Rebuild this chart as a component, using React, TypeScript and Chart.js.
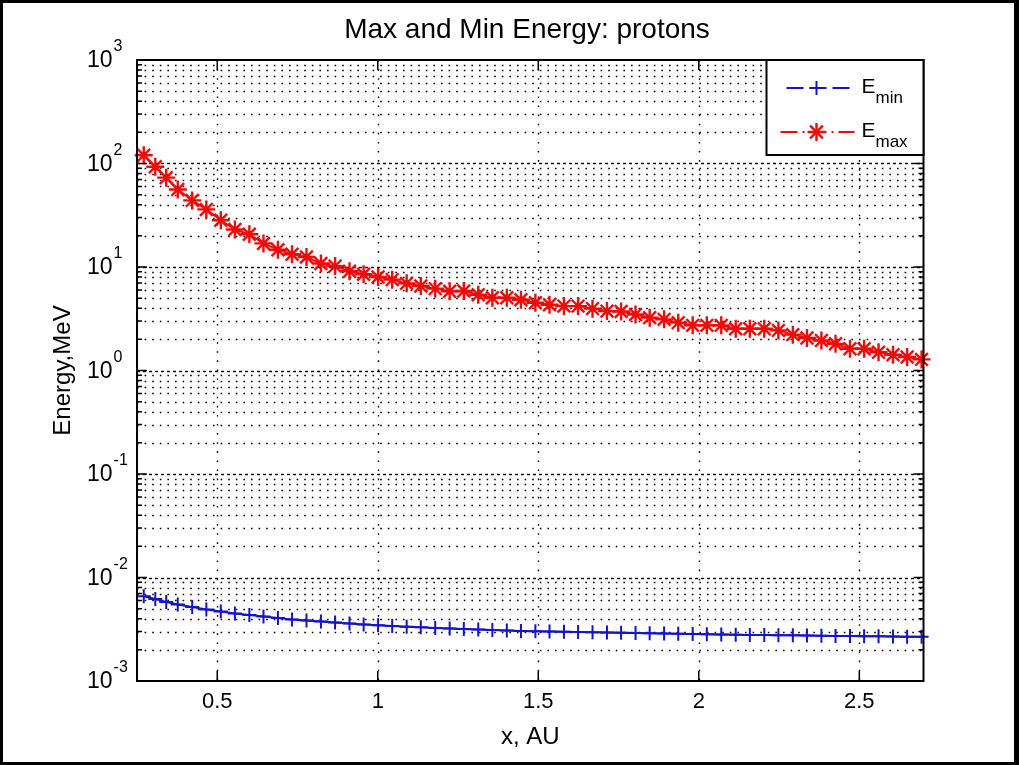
import React, { useEffect, useRef } from 'react';
import { Chart, registerables } from 'chart.js';

Chart.register(...registerables);

// ---- data ----
const xValues = [
  0.271, 0.307, 0.341, 0.377, 0.422, 0.466, 0.511, 0.555, 0.600, 0.644,
  0.689, 0.733, 0.778, 0.823, 0.867, 0.912, 0.956, 1.001, 1.045, 1.090,
  1.134, 1.179, 1.224, 1.268, 1.313, 1.357, 1.402, 1.446, 1.491, 1.535,
  1.580, 1.624, 1.669, 1.714, 1.758, 1.803, 1.847, 1.892, 1.936, 1.981,
  2.025, 2.070, 2.115, 2.159, 2.204, 2.248, 2.293, 2.337, 2.382, 2.426,
  2.471, 2.515, 2.560, 2.605, 2.649, 2.694,
];

const eMaxValues = [
  120, 93, 73, 56, 44, 36, 28.3, 23, 20.7, 16.9,
  14.7, 13.3, 12.5, 10.8, 10.2, 9.1, 8.5, 8.0, 7.55, 6.95,
  6.55, 6.18, 5.82, 5.86, 5.4, 5.05, 5.05, 4.83, 4.52, 4.32,
  4.19, 4.19, 3.96, 3.75, 3.72, 3.48, 3.24, 3.12, 2.9, 2.73,
  2.73, 2.73, 2.53, 2.53, 2.53, 2.44, 2.22, 2.06, 1.95, 1.81,
  1.62, 1.62, 1.5, 1.42, 1.35, 1.28,
];

const eMinValues = [
  0.0066, 0.00621, 0.00581, 0.00549, 0.00519, 0.00491, 0.0047, 0.00449, 0.00435, 0.0042,
  0.00406, 0.00393, 0.00384, 0.00376, 0.00368, 0.0036, 0.00352, 0.00345, 0.0034, 0.00335,
  0.0033, 0.00325, 0.00322, 0.00318, 0.00315, 0.00311, 0.00308, 0.00304, 0.00303, 0.00301,
  0.00299, 0.00297, 0.00295, 0.00294, 0.00292, 0.00291, 0.00289, 0.00288, 0.00286, 0.00284,
  0.00283, 0.00282, 0.0028, 0.00279, 0.00278, 0.00277, 0.00276, 0.00275, 0.00273, 0.00272,
  0.00272, 0.00271, 0.0027, 0.00269, 0.00268, 0.00267,
];

const xTicks = [0.5, 1, 1.5, 2, 2.5];
const xTickLabels = ['0.5', '1', '1.5', '2', '2.5'];
const yDecadeExponents = [-3, -2, -1, 0, 1, 2, 3];
const yExponentLabels = ['-3', '-2', '-1', '0', '1', '2', '3'];
const yMinorMultipliers = [2, 3, 4, 5, 6, 7, 8, 9];

const titleText = 'Max and Min Energy: protons';
const xAxisLabel = 'x, AU';
const yAxisLabel = 'Energy,MeV';
const seriesNames = [
  { base: 'E', sub: 'min' },
  { base: 'E', sub: 'max' },
];

const FONT = '"Liberation Sans", Arial, Helvetica, sans-serif';
const BLUE = 'rgb(20,20,200)';
const RED = 'rgb(240,10,10)';

function drawPlus(ctx: CanvasRenderingContext2D, x: number, y: number, r: number) {
  ctx.beginPath();
  ctx.moveTo(x - r, y); ctx.lineTo(x + r, y);
  ctx.moveTo(x, y - r); ctx.lineTo(x, y + r);
  ctx.stroke();
}

function drawStar(ctx: CanvasRenderingContext2D, x: number, y: number, r: number) {
  drawPlus(ctx, x, y, r);
  const d = r * Math.SQRT1_2;
  ctx.beginPath();
  ctx.moveTo(x - d, y - d); ctx.lineTo(x + d, y + d);
  ctx.moveTo(x - d, y + d); ctx.lineTo(x + d, y - d);
  ctx.stroke();
}

const matlabPlugin = {
  id: 'matlabLook',
  beforeDraw(chart: any) {
    const { ctx, width, height } = chart;
    ctx.save();
    ctx.fillStyle = '#fff';
    ctx.fillRect(0, 0, width, height);
    ctx.fillStyle = '#000';
    ctx.fillRect(0, 0, width, 3);
    ctx.fillRect(0, 0, 3, height);
    ctx.fillRect(width - 5, 0, 5, height);
    ctx.fillRect(0, height - 3, width, 3);
    ctx.restore();
  },
  beforeDatasetsDraw(chart: any) {
    const { ctx, chartArea: ca, scales } = chart;
    const xs = scales.x;
    const ys = scales.y;
    ctx.save();
    ctx.strokeStyle = '#000';
    ctx.lineWidth = 1.4;
    for (const e of yDecadeExponents) {
      for (const m of [1, ...yMinorMultipliers]) {
        const v = m * Math.pow(10, e);
        const py = ys.getPixelForValue(v);
        if (py <= ca.top + 1 || py >= ca.bottom - 1) continue;
        ctx.setLineDash(m === 1 ? [3, 3] : [1.6, 6]);
        ctx.beginPath();
        ctx.moveTo(ca.left, Math.round(py) + 0.5);
        ctx.lineTo(ca.right, Math.round(py) + 0.5);
        ctx.stroke();
      }
    }
    ctx.setLineDash([1.6, 7.5]);
    for (const v of xTicks) {
      const px = Math.round(xs.getPixelForValue(v)) + 0.5;
      ctx.beginPath();
      ctx.moveTo(px, ca.top);
      ctx.lineTo(px, ca.bottom);
      ctx.stroke();
    }
    ctx.restore();
  },
  afterDatasetsDraw(chart: any) {
    const { ctx, chartArea: ca, scales } = chart;
    const xs = scales.x;
    const ys = scales.y;
    ctx.save();
    ctx.setLineDash([]);
    ctx.strokeStyle = '#000';
    ctx.lineWidth = 1.5;
    // ticks on y (left & right), inward
    for (const e of yDecadeExponents) {
      for (const m of [1, ...yMinorMultipliers]) {
        const v = m * Math.pow(10, e);
        const py = ys.getPixelForValue(v);
        if (py < ca.top - 0.5 || py > ca.bottom + 0.5) continue;
        const len = m === 1 ? 10 : 5;
        ctx.beginPath();
        ctx.moveTo(ca.left, py); ctx.lineTo(ca.left + len, py);
        ctx.moveTo(ca.right, py); ctx.lineTo(ca.right - len, py);
        ctx.stroke();
      }
    }
    for (const v of xTicks) {
      const px = xs.getPixelForValue(v);
      ctx.beginPath();
      ctx.moveTo(px, ca.bottom); ctx.lineTo(px, ca.bottom - 10);
      ctx.moveTo(px, ca.top); ctx.lineTo(px, ca.top + 10);
      ctx.stroke();
    }
    // axes box
    ctx.lineWidth = 2;
    ctx.strokeRect(ca.left, ca.top, ca.right - ca.left, ca.bottom - ca.top);

    // y tick labels: 10 with superscript exponent
    ctx.fillStyle = '#000';
    ctx.textBaseline = 'middle';
    ctx.textAlign = 'left';
    yDecadeExponents.forEach((e, i) => {
      const py = ys.getPixelForValue(Math.pow(10, e));
      ctx.font = `23px ${FONT}`;
      const baseX = 87;
      ctx.fillText('10', baseX, py + 1);
      const w = ctx.measureText('10').width;
      ctx.font = `16px ${FONT}`;
      ctx.fillText(yExponentLabels[i], baseX + w + 1, py - 13);
    });

    // legend
    const lw = 157;
    const lh = 95;
    const lx = ca.right - lw;
    const ly = ca.top;
    ctx.fillStyle = '#fff';
    ctx.fillRect(lx, ly, lw, lh);
    ctx.lineWidth = 2;
    ctx.strokeStyle = '#000';
    ctx.strokeRect(lx, ly, lw, lh);

    const rows = [ly + 28, ly + 72];
    const lineX0 = lx + 14;
    const lineX1 = lx + 88;
    const markX = lx + 50;
    // blue row
    ctx.strokeStyle = BLUE;
    ctx.lineWidth = 2;
    ctx.setLineDash([17, 6]);
    ctx.lineDashOffset = -6;
    ctx.beginPath(); ctx.moveTo(lineX0, rows[0]); ctx.lineTo(lineX1, rows[0]); ctx.stroke();
    ctx.setLineDash([]);
    drawPlus(ctx, markX, rows[0], 7);
    // red row
    ctx.strokeStyle = RED;
    ctx.setLineDash([17, 5, 2, 5]);
    ctx.lineDashOffset = 0;
    ctx.beginPath(); ctx.moveTo(lineX0, rows[1]); ctx.lineTo(lineX1, rows[1]); ctx.stroke();
    ctx.setLineDash([]);
    ctx.lineWidth = 2.4;
    drawStar(ctx, markX, rows[1], 9);

    ctx.fillStyle = '#000';
    ctx.textBaseline = 'alphabetic';
    seriesNames.forEach((s, i) => {
      const tx = lx + 95;
      const by = rows[i] + 5;
      ctx.font = `21px ${FONT}`;
      ctx.fillText(s.base, tx, by);
      const w = ctx.measureText(s.base).width;
      ctx.font = `17px ${FONT}`;
      ctx.fillText(s.sub, tx + w, by + 10);
    });
    ctx.restore();
  },
};

export default function App() {
  const ref = useRef<HTMLCanvasElement>(null);
  useEffect(() => {
    document.body.style.margin = '0';
    const canvas = ref.current;
    if (!canvas) return;
    const chart = new Chart(canvas, {
      type: 'line',
      data: {
        datasets: [
          {
            label: 'E_min',
            data: xValues.map((x, i) => ({ x, y: eMinValues[i] })),
            borderColor: BLUE,
            backgroundColor: BLUE,
            borderWidth: 2,
            pointStyle: 'cross',
            pointRadius: 7,
            pointBorderWidth: 2,
            pointBorderColor: BLUE,
            tension: 0,
            clip: false,
          },
          {
            label: 'E_max',
            data: xValues.map((x, i) => ({ x, y: eMaxValues[i] })),
            borderColor: RED,
            backgroundColor: RED,
            borderWidth: 2,
            pointStyle: 'star',
            pointRadius: 9,
            pointBorderWidth: 2.4,
            pointBorderColor: RED,
            tension: 0,
            clip: false,
          },
        ],
      } as any,
      options: {
        responsive: false,
        animation: false,
        events: [],
        layout: { padding: { left: 35, right: 0, top: 0, bottom: 0 } },
        plugins: {
          legend: { display: false },
          tooltip: { enabled: false },
          title: {
            display: true,
            text: titleText,
            color: '#000',
            font: { family: FONT, size: 28, weight: 'normal' },
            padding: { top: 13, bottom: 13.4 },
          },
        },
        scales: {
          x: {
            type: 'linear',
            min: 0.25,
            max: 2.7,
            afterBuildTicks: (s: any) => {
              s.ticks = xTicks.map((v) => ({ value: v }));
            },
            afterFit: (s: any) => {
              s.height = 84;
            },
            grid: { display: false, drawTicks: false },
            border: { display: false },
            ticks: {
              color: '#000',
              font: { family: FONT, size: 22 },
              padding: 8,
              autoSkip: false,
              maxRotation: 0,
              callback: (_v: any, i: number) => xTickLabels[i],
            },
            title: {
              display: true,
              text: xAxisLabel,
              color: '#000',
              font: { family: FONT, size: 24 },
              padding: { top: 0, bottom: 13.6 },
            },
          },
          y: {
            type: 'logarithmic',
            min: 1e-3,
            max: 1e3,
            afterBuildTicks: (s: any) => {
              s.ticks = yDecadeExponents.map((e) => ({ value: Math.pow(10, e) }));
            },
            afterFit: (s: any) => {
              s.width = 102;
            },
            grid: { display: false, drawTicks: false },
            border: { display: false },
            ticks: { display: false },
            title: {
              display: true,
              text: yAxisLabel,
              color: '#000',
              font: { family: FONT, size: 24 },
              padding: { top: 13.6, bottom: 0 },
            },
          },
          yRight: {
            type: 'linear',
            position: 'right',
            display: true,
            min: 0,
            max: 1,
            afterFit: (s: any) => {
              s.width = 95.5;
            },
            grid: { display: false, drawTicks: false },
            border: { display: false },
            ticks: { display: false },
          },
        },
      } as any,
      plugins: [matlabPlugin],
    });
    return () => chart.destroy();
  }, []);
  return <canvas ref={ref} width={1019} height={765} style={{ display: 'block' }} />;
}
